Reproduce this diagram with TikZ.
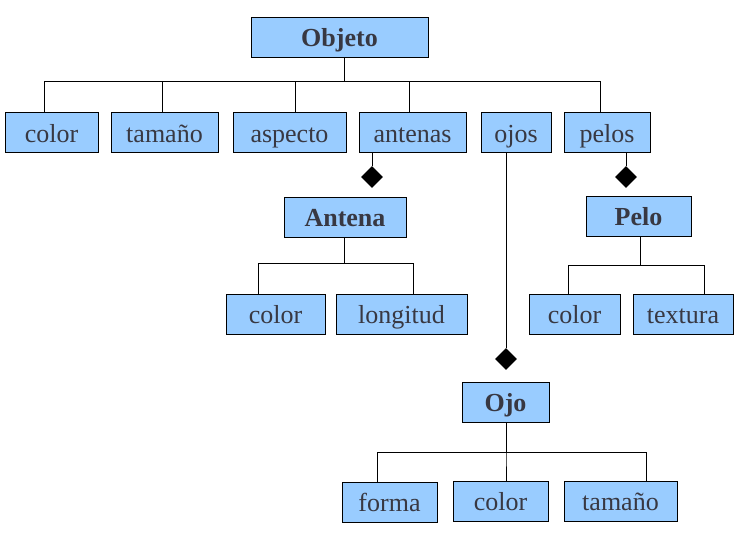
\documentclass[tikz,border=0pt]{standalone}
\usepackage{fontspec}
\setmainfont{Liberation Serif}
\usepackage{tikz}
\usetikzlibrary{shapes.geometric}
\definecolor{box blue}{rgb}{0.6, 0.8, 1.0}
\definecolor{ink gray}{rgb}{0.22, 0.22, 0.26}
\tikzset{
	box/.style = {draw, fill = box blue, text = ink gray, line width = 1pt,
		minimum height = 40pt, inner sep = 0pt, text height = 25pt, text depth = 6pt,
		font = \fontsize{26}{30}\selectfont},
	class/.style = {box, font = \fontsize{26}{30}\selectfont\bfseries},
	whole/.style = {diamond, fill = black, minimum size = 22pt, inner sep = 0pt},
	link/.style = {line width = 1pt}
}
\begin{document}
\begin{tikzpicture}[x = 1pt, y = -1pt]
		\useasboundingbox (0, 0) rectangle (737, 533);
		% top class
		\node[class, minimum width = 177pt] (objeto) at (339.5, 37) {Objeto};
		\node[box, minimum width = 93pt] (color) at (51.5, 132.5) {color};
		\node[box, minimum width = 107pt] (tamano) at (164.5, 132.5) {tamaño};
		\node[box, minimum width = 113pt] (aspecto) at (289.5, 132.5) {aspecto};
		\node[box, minimum width = 107pt] (antenas) at (412.5, 132.5) {antenas};
		\node[box, minimum width = 70pt] (ojos) at (516, 132.5) {ojos};
		\node[box, minimum width = 86pt] (pelos) at (607, 132.5) {pelos};
		\draw[link] ([xshift = 4.5pt]objeto.south) -- ++(0, 24) -| ([xshift = -7.5pt]color.north);
		\draw[link] ([xshift = 4.5pt]objeto.south) -- ++(0, 24) -| ([xshift = -2.5pt]tamano.north);
		\draw[link] ([xshift = 4.5pt]objeto.south) -- ++(0, 24) -| ([xshift = 5.5pt]aspecto.north);
		\draw[link] ([xshift = 4.5pt]objeto.south) -- ++(0, 24) -| ([xshift = -3.5pt]antenas.north);
		\draw[link] ([xshift = 4.5pt]objeto.south) -- ++(0, 24) -| ([xshift = -7pt]pelos.north);
		% antena
		\node[whole] (d antenas) at (372, 177) {};
		\draw[link] ([xshift = -40.5pt]antenas.south) -- (d antenas.north);
		\node[class, minimum width = 122pt] (antena) at (345, 217) {Antena};
		\node[box, minimum width = 99pt] (antena color) at (275.5, 314) {color};
		\node[box, minimum width = 131pt] (longitud) at (401.5, 314) {longitud};
		\draw[link] ([xshift = -1pt]antena.south) -- ++(0, 26) -| ([xshift = -17.5pt]antena color.north);
		\draw[link] ([xshift = -1pt]antena.south) -- ++(0, 26) -| ([xshift = 11.5pt]longitud.north);
		% pelo
		\node[whole] (d pelos) at (626, 177) {};
		\draw[link] ([xshift = 19pt]pelos.south) -- (d pelos.north);
		\node[class, minimum width = 105pt] (pelo) at (638.5, 216) {Pelo};
		\node[box, minimum width = 91pt] (pelo color) at (574.5, 314) {color};
		\node[box, minimum width = 100pt] (textura) at (683, 314) {textura};
		\draw[link] ([xshift = 1.5pt]pelo.south) -- ++(0, 29) -| ([xshift = -6.5pt]pelo color.north);
		\draw[link] ([xshift = 1.5pt]pelo.south) -- ++(0, 29) -| ([xshift = 21pt]textura.north);
		% ojo
		\node[whole] (d ojos) at (506, 359) {};
		\draw[link] ([xshift = -10pt]ojos.south) -- (d ojos.north);
		\node[class, minimum width = 87pt] (ojo) at (505.5, 402) {Ojo};
		\node[box, minimum width = 95pt] (forma) at (389.5, 502) {forma};
		\node[box, minimum width = 95pt] (ojo color) at (500.5, 501) {color};
		\node[box, minimum width = 113pt] (ojo tamano) at (620.5, 501) {tamaño};
		\draw[link] ([xshift = 0.5pt]ojo.south) -- ++(0, 30) -| ([xshift = -12.5pt]forma.north);
		\draw[link] ([xshift = 0.5pt]ojo.south) -- ++(0, 30) -| ([xshift = 5.5pt]ojo color.north);
		\draw[link] ([xshift = 0.5pt]ojo.south) -- ++(0, 30) -| ([xshift = 25.5pt]ojo tamano.north);
	\end{tikzpicture}
\end{document}
